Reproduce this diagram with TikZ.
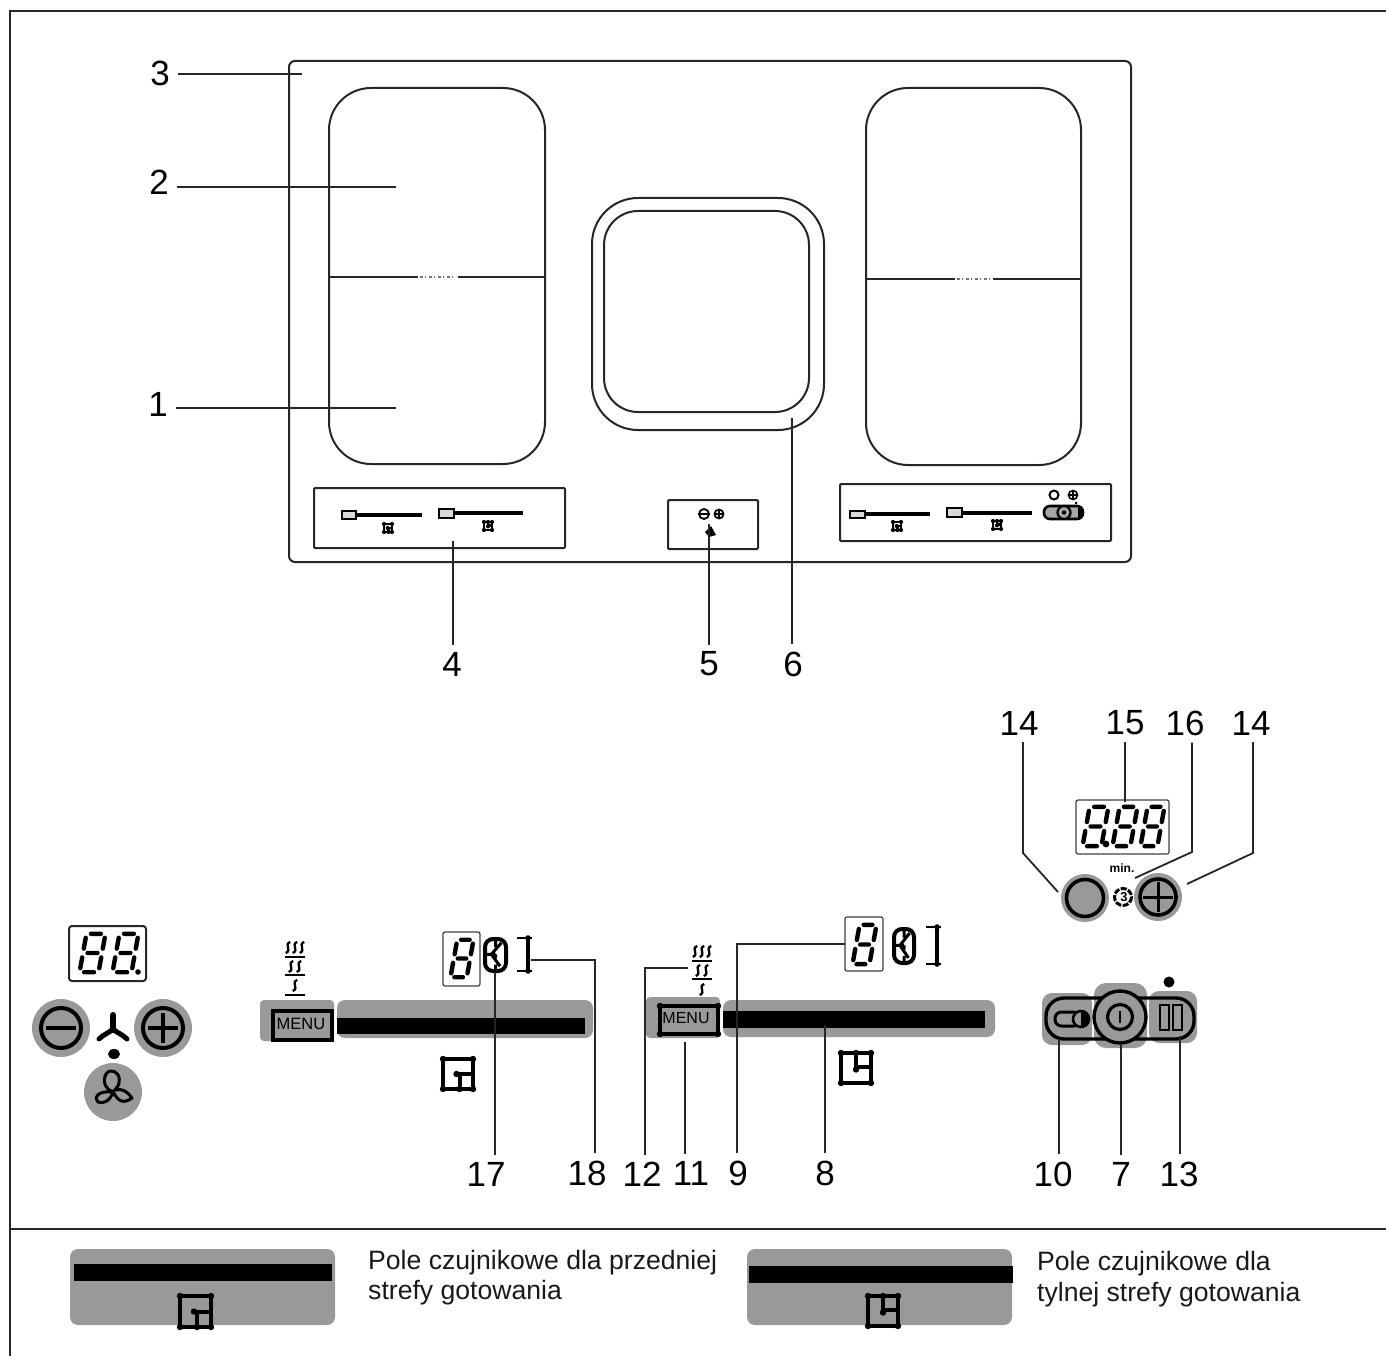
\documentclass[tikz,border=0pt]{standalone}
\usepackage{fontspec}
\setmainfont{Liberation Sans}
\definecolor{padgray}{HTML}{999999}
\tikzset{
 leader/.style={line width=1.8pt,draw=black!85,line join=miter},
 outline/.style={line width=2pt,draw=black!85},
 thin outline/.style={line width=1.2pt,draw=black!75},
 num/.style={font=\fontsize{35}{38}\selectfont,inner xsep=8pt,inner ysep=7pt,text=black},
 caption/.style={font=\fontsize{26.6}{29}\selectfont,anchor=west,inner sep=0pt,text=black!90},
 pad/.style={fill=padgray,draw=none},
 ring/.style={line width=4pt,draw=black},
 bar/.style={fill=black,draw=none},
 seg/.style={line width=4.4pt,line cap=round,draw=black},
}
% seven-segment digit: left, top, width, height
\newcommand\segd[4]{%
 \pgfmathsetmacro\sk{0.18*#4}\pgfmathsetmacro\bw{#3-\sk}%
 \begin{scope}[shift={(#1+\sk,#2)},x={(\bw pt,0pt)},y={(-\sk pt,-#4 pt)}]
  \draw[seg] (.25,.02)--(.75,.02) (.25,.5)--(.75,.5) (.25,.98)--(.75,.98)
   (.02,.12)--(.02,.39) (.98,.12)--(.98,.39) (.02,.61)--(.02,.88) (.98,.61)--(.98,.88);
 \end{scope}}
% zone symbols: left, top, size, line width
\newcommand\zonebase[4]{%
 \draw[line width=#4 pt,draw=black] (0,0) rectangle (1,1);
 \foreach \p in {(0,0),(1,0),(0,1),(1,1)}{\fill \p circle [radius=#4*.8pt];}}
\newcommand\zonea[4]{\begin{scope}[shift={(#1,#2)},x={(#3pt,0pt)},y={(0pt,-#3pt)}]
 \zonebase{#1}{#2}{#3}{#4}
 \draw[line width=#4 pt] (.45,.5)--(1,.5) (.55,.5)--(.55,1);
 \fill (.45,.5) circle [radius=#4*.8pt] (.55,1) circle [radius=#4*.8pt];
 \end{scope}}
\newcommand\zoneb[4]{\begin{scope}[shift={(#1,#2)},x={(#3pt,0pt)},y={(0pt,-#3pt)}]
 \zonebase{#1}{#2}{#3}{#4}
 \draw[line width=#4 pt] (.5,.47)--(1,.47) (.5,0)--(.5,.55);
 \fill (.5,.55) circle [radius=#4*.8pt] (.5,0) circle [radius=#4*.8pt];
 \end{scope}}
% steam column: centre x, top y
\newcommand\wig[2]{\draw[line width=2.3pt,black] (#1+2.2,#2) .. controls (#1-4.5,#2+2.5) and (#1+4.5,#2+8) .. (#1-2.2,#2+11);}
\newcommand\steam[2]{\begin{scope}[shift={(#1,#2)}]
 \wig{-7}{0}\wig{0}{0}\wig{7}{0}
 \draw[line width=2.2pt,black] (-10,15)--(10,15);
 \wig{-4}{19}\wig{4}{19}
 \draw[line width=2.2pt,black] (-10,33)--(10,33);
 \wig{0}{38}
 \draw[line width=2.2pt,black] (-10,53)--(10,53);
 \end{scope}}
% box digit and bracket
\newcommand\boxdig[4]{\begin{scope}[shift={(#1,#2)}]
 \draw[line width=4pt,rounded corners=8pt] (0,0) rectangle (#3,#4);
 \draw[line width=3pt] (#3*.5,0)--(#3*.5,#4*.25) (#3*.78,#4*.12)--(#3*.3,#4*.48) (0,#4*.48)--(#3*.5,#4*.48) (#3*.3,#4*.48)--(#3*.72,#4*.85) (#3*.5,#4*.48)--(#3*.5,#4*.6) (#3*.5,#4*.8)--(#3*.5,#4);
 \end{scope}}
\newcommand\bracket[3]{\begin{scope}[shift={(#1,#2)}]
 \draw[line width=2.6pt] (0,0)--(15,0) (0,#3)--(15,#3);
 \draw[line width=3.4pt] (11,0)--(11,#3);
 \fill (11,0) circle [radius=2.8pt] (11,#3) circle [radius=2.8pt];
 \end{scope}}
\newcommand\minislider[6]{% box l,t,r,b ; bar end; bar y
 \draw[line width=2.2pt,fill=black!15] (#1,#2) rectangle (#3,#4);
 \draw[line width=3.4pt] (#3,#6)--(#5,#6);}
\begin{document}
\begin{tikzpicture}[x=1pt,y=-1pt]
\useasboundingbox (0,0) rectangle (1386,1356);
% page frame
\draw[outline] (1386,11)--(10,11)--(10,1356);
\draw[outline] (10,1229)--(1386,1229);

% hob
\draw[outline,rounded corners=6pt] (289,61) rectangle (1131,562);
\draw[outline,rounded corners=42pt] (329,88) rectangle (545,464);
\draw[outline,rounded corners=42pt] (866,88) rectangle (1081,465);
\draw[outline,rounded corners=46pt] (592,198) rectangle (824,430);
\draw[outline,rounded corners=34pt] (604,211) rectangle (809,412);
\draw[outline] (329,277)--(418,277) (458,277)--(546,277);
\draw[outline] (866,279)--(955,279) (993,279)--(1081,279);
\draw[line width=2.4pt,black!55,dash pattern=on 3pt off 2pt on 1pt off 3pt] (420,277)--(456,277);
\draw[line width=2.4pt,black!55,dash pattern=on 3pt off 2pt on 1pt off 3pt] (957,279)--(991,279);
% hob control boxes
\draw[outline,rounded corners=1pt] (314,488) rectangle (565,548);
\draw[outline,rounded corners=1pt] (668,500) rectangle (758,549);
\draw[outline,rounded corners=1pt] (840,484) rectangle (1111,541);
\minislider{342}{511}{356}{519}{422}{515}
\zonea{384}{524}{8}{2.6}
\minislider{439}{509}{454}{518}{523}{513}
\zoneb{484}{522}{8}{2.6}
\draw[line width=1.8pt] (704,514) circle [radius=5];
\draw[line width=1.2pt] (699,514)--(709,514);
\draw[line width=1.8pt] (719,514) circle [radius=4.5];
\draw[line width=1.2pt] (714.5,514)--(723.5,514) (719,509.5)--(719,518.5);
\fill (711,526)--(716,535)--(709,537)--(705,532)--cycle;
\minislider{850}{511}{865}{518}{930}{514}
\zonea{893}{522}{8}{2.6}
\minislider{947}{508}{962}{517}{1032}{513}
\zoneb{993}{521}{8}{2.6}
\draw[line width=2pt] (1054,495) circle [radius=4.5];
\draw[line width=1.6pt] (1073,495) circle [radius=4.5];
\draw[line width=1.2pt] (1068.5,495)--(1077.5,495) (1073,490.5)--(1073,499.5);
\fill (1076,503) circle [radius=1.5];
\draw[line width=2.6pt,rounded corners=6pt,fill=black!35] (1044,506) rectangle (1083,519);
\draw[line width=2.2pt,fill=black!35] (1064,512.5) circle [radius=6.5];
\fill (1064,512.5) circle [radius=2.2];
\fill (1078,506) rectangle (1082,519);

% fan / extractor panel
\draw[outline,rounded corners=3pt] (69,926) rectangle (146,981);
\segd{79}{933}{27}{40}
\segd{112}{933}{27}{40}
\fill (138,972) circle [radius=2.8];
\fill[padgray] (61,1028) circle [radius=29];
\fill[padgray] (163,1028) circle [radius=29];
\fill[padgray] (113,1092) circle [radius=29];
\draw[ring] (61,1028) circle [radius=20];
\draw[line width=3.2pt] (46,1028)--(76,1028);
\draw[ring] (163,1028) circle [radius=20];
\draw[line width=3.2pt] (148,1028)--(178,1028) (163,1013)--(163,1043);
\draw[line width=6pt,line cap=round] (113,1030)--(113,1015);
\draw[line width=5pt,line cap=round] (113,1029) .. controls (109,1033) and (104,1034) .. (99,1039);
\draw[line width=5pt,line cap=round] (113,1029) .. controls (117,1033) and (122,1034) .. (127,1039);
\fill (114,1054) ellipse [x radius=6,y radius=5];
\draw[line width=3pt,line join=round] (113,1092)
 .. controls (100,1087) and (104,1072) .. (110,1071) .. controls (116,1070) and (122,1076) .. (118,1086) -- (113,1092)
 .. controls (110,1102) and (102,1104) .. (98,1102) .. controls (94,1099) and (96,1090) .. (113,1092)
 .. controls (118,1100) and (122,1105) .. (132,1098) .. controls (128,1092) and (122,1088) .. (116,1090);

% left slider
\steam{295}{942}
\fill[pad,rounded corners=4pt] (260,1000) rectangle (334,1041);
\fill[pad,rounded corners=8pt] (337,1000) rectangle (593,1038);
\fill[bar] (337,1018) rectangle (585,1034);
\draw[line width=3.4pt] (273,1011) rectangle (332,1040);
\node (menua) at (301,1024) [font=\fontsize{16.5}{18}\selectfont,inner sep=0pt,text=black] {MENU};
\draw[thin outline,rounded corners=2pt] (443,932) rectangle (480,986);
\segd{450}{939}{24}{39}
\boxdig{485}{939}{21}{32}
\bracket{517}{938}{33}
\zonea{443}{1059}{30}{4}

% right slider
\steam{702}{946}
\fill[pad,rounded corners=4pt] (646,997) rectangle (720,1038);
\fill[pad,rounded corners=8pt] (723,1000) rectangle (995,1037);
\fill[bar] (723,1011) rectangle (985,1028);
\draw[line width=3.4pt] (660,1006) rectangle (718,1034);
\foreach \p in {(660,1006),(718,1006),(660,1034),(718,1034)}{\fill \p circle [radius=3.2];}
\node (menub) at (686,1018) [font=\fontsize{16}{18}\selectfont,inner sep=0pt,text=black] {MENU};
\draw[thin outline,rounded corners=2pt] (845,917) rectangle (883,971);
\segd{852}{924}{25}{41}
\boxdig{894}{929}{20}{34}
\bracket{926}{927}{37}
\zoneb{841}{1053}{30}{4}

% timer
\draw[thin outline,rounded corners=2pt] (1076,800) rectangle (1169,854);
\segd{1082}{806}{27}{41}
\segd{1112}{806}{26}{41}
\segd{1140}{806}{25}{41}
\fill (1106,844) circle [radius=3.4];
\node (minlabel) at (1122,868) [font=\bfseries\fontsize{12}{13}\selectfont,inner sep=0pt] {min.};
\fill[padgray] (1085,898) circle [radius=24];
\fill[padgray] (1158,897) circle [radius=24];
\draw[ring,line width=3.6pt] (1085,898) circle [radius=18.5];
\draw[ring,line width=3.6pt] (1158,897) circle [radius=18];
\draw[line width=3pt] (1143,897)--(1173,897) (1158,882)--(1158,912);
\draw[line width=3pt,dash pattern=on 6pt off 1.5pt] (1123,897) circle [radius=8.5];
\node (timersym) at (1124,897) [font=\bfseries\fontsize{13}{14}\selectfont,inner sep=0pt] {3};

% power control
\fill[pad,rounded corners=10pt] (1042,993) rectangle (1092,1045);
\fill[pad,rounded corners=12pt] (1094,983) rectangle (1147,1048);
\fill[pad,rounded corners=10pt] (1149,991) rectangle (1197,1043);
\draw[line width=3.4pt,rounded corners=18pt] (1046,998) rectangle (1194,1039);
\draw[line width=3.4pt,fill=padgray] (1120,1017) circle [radius=26];
\draw[line width=3.2pt] (1120,1017) circle [radius=12.5];
\draw[line width=2.2pt] (1120,1011)--(1120,1023);
\draw[line width=3pt,rounded corners=6.5pt,fill=padgray] (1055,1012) rectangle (1080,1026);
\draw[line width=2.6pt,fill=padgray] (1081,1019) circle [radius=8];
\begin{scope}
 \clip (1081,1009) rectangle (1092,1029);
 \fill (1081,1019) circle [radius=8];
\end{scope}
\draw[line width=2.8pt] (1160,1005) rectangle (1169,1030) (1173,1005) rectangle (1182,1030);
\fill (1169,982) circle [radius=5.5];

% legend
\fill[pad,rounded corners=8pt] (70,1249) rectangle (335,1325);
\fill[bar] (74,1264) rectangle (332,1281);
\zonea{180}{1296}{31}{4}
\fill[pad,rounded corners=8pt] (747,1249) rectangle (1012,1325);
\fill[bar] (749,1266) rectangle (1013,1283);
\zoneb{868}{1296}{30}{4}
\node[caption] (capa1) at (368,1263) {Pole czujnikowe dla przedniej};
\node[caption] (capa2) at (368,1293) {strefy gotowania};
\node[caption] (capb1) at (1037,1264) {Pole czujnikowe dla};
\node[caption] (capb2) at (1037,1295) {tylnej strefy gotowania};

% number labels
\node[num] (n3) at (160,73) {3};
\node[num] (n2) at (159,182) {2};
\node[num] (n1) at (158,404) {1};
\node[num] (n4) at (452,664) {4};
\node[num] (n5) at (709,664) {5};
\node[num] (n6) at (793,664) {6};
\node[num] (n14a) at (1019,723) {14};
\node[num] (n15) at (1125,723) {15};
\node[num] (n16) at (1185,723) {16};
\node[num] (n14b) at (1251,723) {14};
\node[num] (n17) at (486,1174) {17};
\node[num] (n18) at (587,1173) {18};
\node[num] (n12) at (642,1174) {12};
\node[num] (n11) at (691,1173) {11};
\node[num] (n9) at (738,1173) {9};
\node[num] (n8) at (825,1173) {8};
\node[num] (n10) at (1053,1174) {10};
\node[num] (n7) at (1121,1174) {7};
\node[num] (n13) at (1179,1174) {13};

% connector ends
\coordinate (e3) at (302,74);
\coordinate (e2) at (396,187);
\coordinate (e1) at (396,408);
\coordinate (e4) at (453,541);
\coordinate (e5) at (709,524);
\coordinate (e6) at (792,418);
\coordinate (b14a) at (1023,853); \coordinate (e14a) at (1058,892);
\coordinate (e15) at (1125,802);
\coordinate (b16) at (1192,852); \coordinate (e16) at (1135,878);
\coordinate (b14b) at (1253,853); \coordinate (e14b) at (1187,884);
\coordinate (e17) at (495,972);
\coordinate (b18) at (595,960); \coordinate (e18) at (531,960);
\coordinate (b12) at (645,968); \coordinate (e12) at (688,968);
\coordinate (e11) at (685,1042);
\coordinate (b9) at (737,944); \coordinate (e9) at (845,944);
\coordinate (e8) at (825,1025);
\coordinate (e10) at (1059,1039);
\coordinate (e7) at (1121,1044);
\coordinate (e13) at (1180,1036);

\draw[leader] (n3.east |- e3) -- (e3);
\draw[leader] (n2.east |- e2) -- (e2);
\draw[leader] (n1.east |- e1) -- (e1);
\draw[leader] (e4 |- n4.north) -- (e4);
\draw[leader] (e5 |- n5.north) -- (e5);
\draw[leader] (e6 |- n6.north) -- (e6);
\draw[leader] (b14a |- n14a.south) -- (b14a) -- (e14a);
\draw[leader] (e15 |- n15.south) -- (e15);
\draw[leader] (b16 |- n16.south) -- (b16) -- (e16);
\draw[leader] (b14b |- n14b.south) -- (b14b) -- (e14b);
\draw[leader] (e17 |- n17.north) -- (e17);
\draw[leader] (b18 |- n18.north) -- (b18) -- (e18);
\draw[leader] (b12 |- n12.north) -- (b12) -- (e12);
\draw[leader] (e11 |- n11.north) -- (e11);
\draw[leader] (b9 |- n9.north) -- (b9) -- (e9);
\draw[leader] (e8 |- n8.north) -- (e8);
\draw[leader] (e10 |- n10.north) -- (e10);
\draw[leader] (e7 |- n7.north) -- (e7);
\draw[leader] (e13 |- n13.north) -- (e13);
\end{tikzpicture}
\end{document}
